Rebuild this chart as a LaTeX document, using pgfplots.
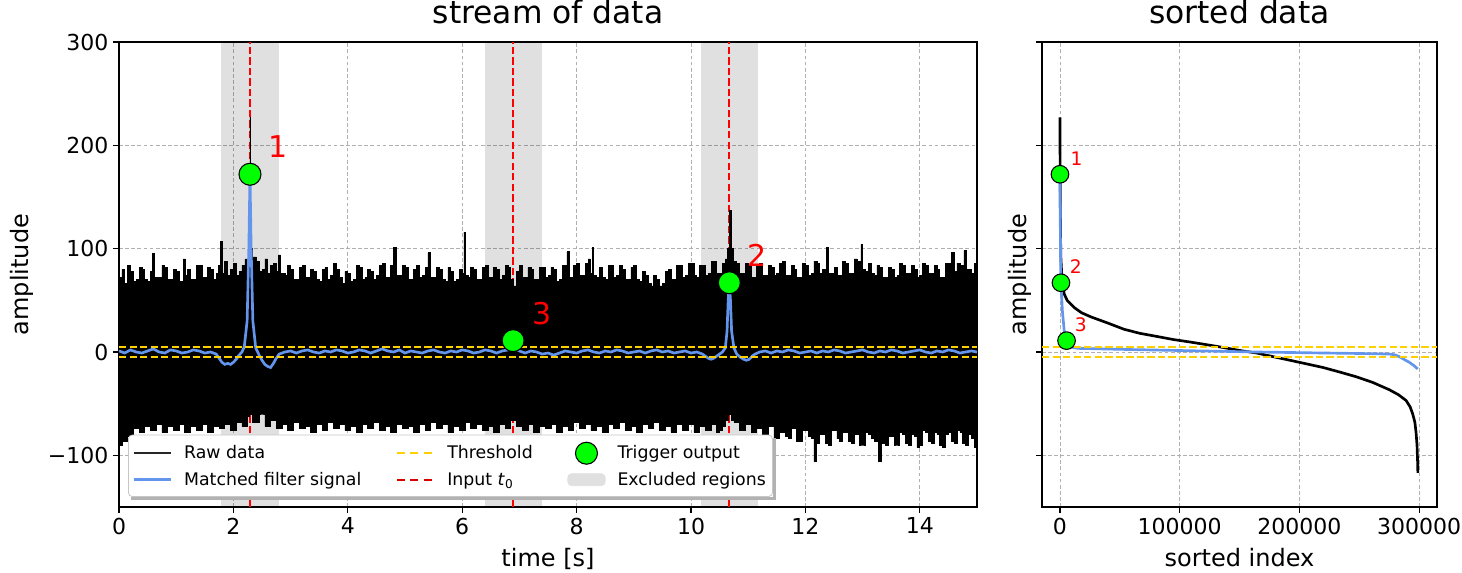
\documentclass[border=0pt]{standalone}
\usepackage{fontspec}
\setmainfont{DejaVu Sans}
\usepackage{pgfplots}
\pgfplotsset{compat=1.18}
\definecolor{mfblue}{HTML}{6495ED}
\definecolor{trig}{HTML}{00FF00}
\definecolor{thr}{HTML}{FFD000}
\definecolor{gridc}{HTML}{B0B0B0}

\pgfplotstableread{
x y
0.0 1
0.1 -1
0.2 2
0.3 0
0.4 -1
0.5 1
0.6 3
0.7 0
0.8 -1
0.9 2
1.0 1
1.1 -1
1.2 0
1.3 2
1.4 1
1.5 -1
1.6 0
1.7 -2
1.75 -6
1.8 -10
1.85 -12
1.9 -11
1.95 -12
2.0 -10
2.05 -7
2.1 -3
2.15 0
2.19 5
2.24 30
2.27 100
2.29 172
2.31 100
2.34 30
2.39 4
2.45 -3
2.5 -8
2.55 -12
2.6 -14
2.65 -15
2.7 -11
2.75 -6
2.8 -2
2.9 0
3.0 1
3.1 -1
3.2 1
3.3 2
3.4 0
3.5 -1
3.6 1
3.7 0
3.8 2
3.9 1
4.0 -1
4.1 0
4.2 2
4.3 1
4.4 -1
4.5 1
4.6 3
4.7 1
4.8 0
4.9 2
5.0 -1
5.1 1
5.2 0
5.3 -1
5.4 1
5.5 2
5.6 0
5.7 -1
5.8 1
5.9 0
6.0 2
6.1 1
6.2 -1
6.3 0
6.4 2
6.5 1
6.6 -1
6.7 1
6.8 2
6.89 4
7.0 1
7.1 -1
7.2 1
7.3 0
7.4 -2
7.5 -1
7.6 -3
7.7 -1
7.8 1
7.9 0
8.0 -1
8.1 1
8.2 2
8.3 0
8.4 -1
8.5 1
8.6 0
8.7 2
8.8 1
8.9 -1
9.0 0
9.1 1
9.2 -1
9.3 1
9.4 2
9.5 0
9.6 1
9.7 -1
9.8 0
9.9 1
10.0 -1
10.1 0
10.2 -2
10.25 -4
10.3 -6
10.35 -7
10.4 -6
10.45 -4
10.5 -2
10.55 0
10.6 4
10.63 20
10.65 50
10.67 67
10.69 50
10.71 20
10.75 4
10.8 -2
10.86 -5
10.92 -7
10.97 -8
11.02 -7
11.07 -4
11.12 -2
11.2 0
11.3 1
11.4 -1
11.5 1
11.6 0
11.7 2
11.8 1
11.9 -1
12.0 0
12.1 1
12.2 -1
12.3 1
12.4 0
12.5 2
12.6 1
12.7 -1
12.8 0
12.9 1
13.0 2
13.1 0
13.2 -1
13.3 1
13.4 0
13.5 2
13.6 1
13.7 -1
13.8 0
13.9 1
14.0 2
14.1 0
14.2 -1
14.3 1
14.4 0
14.5 2
14.6 1
14.7 -1
14.8 0
14.9 1
15.0 0
}\mftable

\pgfplotstableread{
x y
0.0 72
0.05 80
0.1 66
0.15 84
0.2 78
0.25 68
0.3 70
0.35 82
0.4 80
0.45 70
0.5 68
0.55 78
0.58 95
0.62 72
0.7 72
0.75 84
0.8 82
0.85 70
0.9 70
0.95 80
1.0 78
1.05 68
1.12 90
1.16 74
1.2 80
1.25 70
1.3 70
1.35 84
1.4 84
1.45 72
1.5 72
1.55 82
1.6 80
1.65 70
1.7 76
1.74 84
1.77 107
1.8 76
1.85 88
1.9 74
1.95 80
2.0 86
2.05 74
2.1 78
2.15 84
2.2 90
2.25 82
2.28 100
2.29 227
2.30 100
2.33 92
2.4 88
2.45 78
2.5 80
2.55 90
2.6 76
2.65 84
2.7 86
2.75 78
2.78 94
2.82 76
2.9 74
2.95 84
3.0 80
3.05 70
3.1 70
3.15 82
3.2 84
3.25 72
3.3 72
3.35 80
3.4 78
3.45 70
3.5 68
3.55 80
3.6 82
3.65 70
3.7 74
3.75 86
3.8 80
3.85 72
3.9 66
3.95 78
4.0 76
4.05 68
4.1 70
4.15 84
4.2 82
4.25 70
4.3 72
4.35 80
4.4 78
4.45 70
4.5 74
4.55 84
4.6 86
4.65 72
4.7 72
4.75 84
4.8 101
4.85 74
4.9 74
4.95 84
5.0 82
5.05 70
5.1 70
5.15 80
5.2 84
5.25 72
5.3 74
5.35 82
5.4 96
5.45 72
5.5 72
5.55 82
5.6 80
5.65 70
5.7 68
5.75 82
5.8 78
5.85 68
5.9 70
5.95 80
6.0 76
6.03 116
6.06 74
6.1 72
6.15 82
6.2 80
6.25 70
6.3 70
6.35 82
6.4 84
6.45 72
6.5 72
6.55 82
6.6 80
6.65 70
6.7 74
6.75 84
6.8 82
6.85 70
6.9 64
6.95 78
7.0 84
7.05 72
7.1 72
7.15 82
7.2 80
7.25 70
7.3 70
7.35 82
7.4 82
7.45 72
7.5 74
7.55 82
7.6 80
7.65 68
7.7 70
7.75 84
7.83 97
7.87 72
7.9 72
7.95 84
8.0 86
8.05 74
8.1 74
8.15 86
8.2 90
8.24 76
8.27 101
8.3 74
8.35 72
8.4 82
8.45 72
8.5 70
8.55 84
8.6 84
8.65 72
8.7 74
8.75 84
8.8 80
8.85 70
8.9 70
8.95 82
9.0 84
9.05 70
9.1 68
9.15 78
9.2 74
9.25 66
9.3 64
9.35 74
9.4 70
9.45 64
9.5 66
9.55 78
9.6 80
9.65 70
9.7 70
9.75 84
9.8 84
9.85 72
9.9 74
9.95 86
10.0 86
10.05 74
10.1 72
10.15 84
10.2 84
10.25 74
10.3 76
10.35 88
10.4 88
10.45 76
10.5 76
10.55 86
10.6 90
10.64 100
10.67 137
10.7 100
10.74 88
10.8 86
10.85 76
10.9 76
10.95 86
11.0 84
11.05 72
11.1 72
11.15 84
11.2 86
11.25 74
11.3 74
11.35 84
11.4 82
11.45 74
11.5 76
11.55 86
11.6 88
11.65 74
11.7 74
11.75 84
11.8 80
11.85 72
11.9 72
11.95 86
12.0 84
12.05 74
12.1 76
12.15 88
12.2 86
12.25 76
12.3 80
12.36 101
12.4 76
12.45 76
12.5 82
12.55 74
12.6 74
12.65 88
12.7 86
12.75 76
12.8 76
12.85 90
12.9 88
12.97 104
13.0 80
13.05 78
13.1 86
13.15 76
13.2 74
13.25 84
13.3 82
13.35 72
13.4 72
13.45 82
13.5 80
13.55 72
13.6 74
13.65 86
13.7 84
13.75 76
13.8 76
13.85 84
13.9 80
13.95 72
14.0 74
14.05 86
14.1 84
14.15 76
14.2 76
14.25 84
14.3 80
14.35 72
14.4 72
14.45 86
14.5 86
14.55 96
14.6 78
14.65 86
14.7 84
14.77 98
14.82 80
14.9 76
14.95 86
15.0 82
15.0 -92
14.95 -84
14.9 -80
14.85 -90
14.8 -88
14.75 -78
14.7 -76
14.65 -88
14.6 -86
14.55 -78
14.5 -80
14.45 -92
14.4 -90
14.35 -80
14.3 -78
14.25 -88
14.2 -86
14.15 -78
14.1 -76
14.05 -90
14.0 -92
13.95 -82
13.9 -80
13.85 -90
13.8 -88
13.75 -80
13.7 -78
13.65 -90
13.6 -90
13.55 -82
13.5 -82
13.45 -90
13.4 -88
13.33 -106
13.28 -86
13.2 -84
13.15 -80
13.1 -78
13.05 -90
13.0 -90
12.95 -80
12.9 -80
12.85 -88
12.8 -86
12.75 -78
12.7 -78
12.65 -86
12.6 -84
12.55 -76
12.5 -76
12.45 -90
12.4 -88
12.35 -80
12.3 -80
12.25 -88
12.19 -106
12.15 -84
12.1 -82
12.05 -76
12.0 -76
11.95 -86
11.9 -86
11.85 -74
11.8 -74
11.75 -84
11.7 -82
11.65 -78
11.6 -78
11.55 -84
11.5 -84
11.45 -72
11.4 -72
11.35 -80
11.3 -80
11.25 -74
11.2 -74
11.15 -78
11.1 -78
11.05 -70
11.0 -70
10.95 -76
10.9 -76
10.85 -68
10.8 -68
10.75 -66
10.7 -60
10.65 -66
10.6 -72
10.55 -76
10.5 -78
10.45 -70
10.4 -70
10.35 -76
10.3 -76
10.25 -72
10.2 -72
10.15 -78
10.1 -78
10.05 -70
10.0 -70
9.95 -76
9.9 -76
9.85 -70
9.8 -70
9.75 -78
9.7 -78
9.65 -72
9.6 -72
9.55 -76
9.5 -76
9.45 -68
9.4 -68
9.35 -74
9.3 -74
9.25 -70
9.2 -70
9.15 -78
9.1 -78
9.05 -72
9.0 -72
8.95 -76
8.9 -76
8.85 -68
8.8 -68
8.75 -74
8.7 -74
8.65 -70
8.6 -70
8.55 -78
8.5 -78
8.45 -72
8.4 -72
8.35 -76
8.3 -76
8.25 -70
8.2 -70
8.15 -74
8.1 -74
8.05 -68
8.0 -68
7.95 -76
7.9 -76
7.85 -72
7.8 -72
7.75 -78
7.7 -78
7.65 -70
7.6 -70
7.55 -74
7.5 -74
7.45 -72
7.4 -72
7.35 -78
7.3 -78
7.25 -70
7.2 -70
7.15 -76
7.1 -76
7.05 -72
7.0 -72
6.95 -66
6.9 -66
6.85 -74
6.8 -74
6.75 -70
6.7 -70
6.65 -78
6.6 -78
6.55 -72
6.5 -72
6.45 -76
6.4 -76
6.35 -70
6.3 -70
6.25 -74
6.2 -74
6.15 -68
6.1 -68
6.05 -76
6.0 -76
5.95 -72
5.9 -72
5.85 -78
5.8 -78
5.75 -70
5.7 -70
5.65 -74
5.6 -74
5.55 -68
5.5 -68
5.45 -76
5.4 -76
5.35 -70
5.3 -70
5.25 -78
5.2 -78
5.15 -72
5.1 -72
5.05 -74
5.0 -74
4.95 -70
4.9 -70
4.85 -78
4.8 -78
4.75 -72
4.7 -72
4.65 -76
4.6 -76
4.55 -68
4.5 -68
4.45 -74
4.4 -74
4.35 -70
4.3 -70
4.25 -78
4.2 -78
4.15 -72
4.1 -72
4.05 -76
4.0 -76
3.95 -70
3.9 -70
3.85 -74
3.8 -74
3.75 -68
3.7 -68
3.65 -76
3.6 -76
3.55 -70
3.5 -70
3.45 -78
3.4 -78
3.35 -72
3.3 -72
3.25 -74
3.2 -74
3.15 -68
3.1 -68
3.05 -76
3.0 -76
2.95 -70
2.9 -70
2.85 -74
2.8 -74
2.75 -66
2.7 -66
2.65 -72
2.6 -72
2.55 -60
2.5 -60
2.45 -68
2.4 -68
2.33 -60
2.3 -48
2.28 -62
2.25 -72
2.2 -72
2.15 -68
2.1 -68
2.05 -76
2.0 -76
1.95 -70
1.9 -70
1.85 -74
1.8 -74
1.75 -72
1.7 -72
1.65 -78
1.6 -78
1.55 -70
1.5 -70
1.45 -76
1.4 -76
1.35 -72
1.3 -72
1.25 -78
1.2 -78
1.15 -70
1.1 -70
1.05 -76
1.0 -76
0.95 -72
0.9 -72
0.85 -78
0.8 -78
0.75 -70
0.7 -70
0.65 -76
0.6 -76
0.55 -72
0.5 -72
0.45 -78
0.4 -78
0.35 -74
0.3 -74
0.25 -82
0.2 -82
0.15 -86
0.1 -86
0.05 -90
0.0 -90
}\rawtable

\pgfplotsset{
  commonstyle/.style={
    scale only axis,
    height=348.75pt,
    ymin=-150, ymax=300,
    ytick={-100,0,100,200,300},
    axis line style={black, line width=0.8pt},
    tick align=outside,
    tick pos=left,
    major tick length=4.5pt,
    tick style={black, line width=0.8pt},
    grid=major,
    grid style={gridc, line width=0.6pt, dash pattern=on 2.8pt off 1.8pt},
    tick label style={font=\fontsize{16.5}{19}\selectfont},
    /pgf/number format/assume math mode=true,
    /pgf/number format/1000 sep={},
    scaled x ticks=false,
    label style={font=\fontsize{18}{21}\selectfont},
    title style={font=\fontsize{23.5}{27}\selectfont},
    xlabel style={at={(axis description cs:0.5,-0.127)}, anchor=base},
  },
}

\begin{document}
\begin{tikzpicture}
\begin{axis}[commonstyle,
  name=left,
  at={(0pt,0pt)}, anchor=south west,
  width=643.5pt,
  xmin=0, xmax=15,
  xtick={0,2,4,6,8,10,12,14},
  yticklabels={−100,0,100,200,300},
  xlabel={time [s]},
  ylabel={amplitude},
  ylabel style={at={(axis description cs:-0.1049,0.5)}, anchor=base, rotate=0},
  title={stream of data},
  title style={at={(axis description cs:0.5,1.0215)}, anchor=base},
  legend columns=3,
  legend cell align=left,
  legend style={at={(axis description cs:0.0105,0.0215)}, anchor=south west,
    name=leg,
    draw=gray!45, fill=white, rounded corners=3pt, line width=0.6pt,
    font=\fontsize{13}{15.6}\selectfont,
    inner xsep=3pt, inner ysep=5pt, row sep=3.5pt,
    /tikz/every odd column/.append style={column sep=7pt},
    /tikz/every even column/.append style={column sep=24pt},
  },
]
% legend entries (row-wise order)
\addlegendimage{legend image code/.code={\draw[black!85, line width=1.6pt] (0pt,0pt) -- (28pt,0pt);}}
\addlegendentry{Raw data}
\addlegendimage{legend image code/.code={\draw[thr, line width=1.5pt, dash pattern=on 6pt off 4pt] (0pt,0pt) -- (28pt,0pt);}}
\addlegendentry{Threshold}
\addlegendimage{legend image code/.code={\draw[fill=trig, draw=black, line width=0.8pt] (14pt,0pt) circle (8.25pt);}}
\addlegendentry{Trigger output}
\addlegendimage{legend image code/.code={\draw[mfblue, line width=1.8pt] (0pt,0pt) -- (28pt,0pt);}}
\addlegendentry{Matched filter signal}
\addlegendimage{legend image code/.code={\draw[red!85!black, line width=1.5pt, dash pattern=on 6pt off 4pt] (0pt,0pt) -- (28pt,0pt);}}
\addlegendentry{Input \textit{t}\textsubscript{0}}
\addlegendimage{legend image code/.code={\fill[black!12] (0pt,-4.5pt) rectangle (28pt,4.5pt);}}
\addlegendentry{Excluded regions}

% excluded regions
\addplot[forget plot, fill=black, fill opacity=0.12, draw=none] coordinates {(1.79,-150) (2.79,-150) (2.79,300) (1.79,300)} -- cycle;
\addplot[forget plot, fill=black, fill opacity=0.12, draw=none] coordinates {(6.39,-150) (7.39,-150) (7.39,300) (6.39,300)} -- cycle;
\addplot[forget plot, fill=black, fill opacity=0.12, draw=none] coordinates {(10.17,-150) (11.17,-150) (11.17,300) (10.17,300)} -- cycle;
% input t0
\addplot[forget plot, red, line width=1.4pt, dash pattern=on 5.5pt off 2.4pt] coordinates {(2.29,-150) (2.29,300)};
\addplot[forget plot, red, line width=1.4pt, dash pattern=on 5.5pt off 2.4pt] coordinates {(6.89,-150) (6.89,300)};
\addplot[forget plot, red, line width=1.4pt, dash pattern=on 5.5pt off 2.4pt] coordinates {(10.67,-150) (10.67,300)};
% raw data band
\addplot[forget plot, const plot, fill=black, draw=black, line width=0.5pt] table[x=x, y=y] {\rawtable} -- cycle;
% matched filter
\addplot[forget plot, mfblue, line width=2pt] table[x=x, y=y] {\mftable};
% thresholds
\addplot[forget plot, thr, line width=1.4pt, dash pattern=on 5.5pt off 2.4pt] coordinates {(0,5) (15,5)};
\addplot[forget plot, thr, line width=1.4pt, dash pattern=on 5.5pt off 2.4pt] coordinates {(0,-5) (15,-5)};
% triggers
\addplot[forget plot, only marks, mark=*, mark size=8.25pt, mark options={fill=trig, draw=black, line width=0.8pt}] coordinates {(2.29,172) (10.67,67) (6.89,11)};
\node[red, font=\fontsize{22.5}{26}\selectfont] at (axis cs:2.78,198.6) {1};
\node[red, font=\fontsize{22.5}{26}\selectfont] at (axis cs:11.15,93.5) {2};
\node[red, font=\fontsize{22.5}{26}\selectfont] at (axis cs:7.40,37) {3};
\end{axis}
% legend shadow strips
\fill[black!30] ([xshift=2.5pt]leg.south west) ++(0pt,-2.5pt) rectangle ([xshift=2.5pt]leg.south east);
\fill[black!30] ([yshift=-2.5pt]leg.north east) ++(2.5pt,0pt) rectangle ([yshift=-2.5pt]leg.south east);

\begin{axis}[commonstyle,
  name=right,
  at={(692.25pt,0pt)}, anchor=south west,
  width=296.25pt,
  xmin=-15000, xmax=315000,
  xtick={0,100000,200000,300000},
  xticklabels={0,100000,200000,300000},
  yticklabels={},
  xlabel={sorted index},
  ylabel={amplitude},
  ylabel style={at={(axis description cs:-0.0405,0.5)}, anchor=base, rotate=0},
  title={sorted data},
  title style={at={(axis description cs:0.5,1.0215)}, anchor=base},
]
\addplot[black, line width=2pt] coordinates {
(0,227) (150,170) (300,140) (500,110) (800,90) (1500,75) (2500,64) (3600,56) (6000,50) (11900,43) (18000,38) (25800,34) (40000,28) (53500,22) (67000,18) (81200,15) (95000,12) (109000,9.6) (123000,7) (136700,4.3) (150000,1.5) (164400,-1) (178000,-4.5) (192100,-8) (206000,-11.5) (219800,-15) (234000,-19.5) (247600,-24) (261400,-29.5) (275300,-36.6) (283000,-41.5) (289200,-47) (292500,-53) (294700,-60) (296500,-68) (297500,-78) (298300,-90) (298900,-110) (299000,-117)};
\addplot[mfblue, line width=2pt] coordinates {
(0,172) (300,120) (600,80) (830,67) (2000,40) (3600,20) (5500,11) (8000,5) (15000,3.5) (53500,2.5) (110000,1.2) (164400,0) (210000,-0.8) (247600,-1.4) (275300,-2) (280000,-2.8) (283600,-4.6) (288000,-7.5) (291900,-10) (295500,-13) (298900,-16.4)};
\addplot[thr, line width=1.4pt, dash pattern=on 5.5pt off 2.4pt] coordinates {(-15000,5) (315000,5)};
\addplot[thr, line width=1.4pt, dash pattern=on 5.5pt off 2.4pt] coordinates {(-15000,-5) (315000,-5)};
\addplot[only marks, mark=*, mark size=6.6pt, mark options={fill=trig, draw=black, line width=0.8pt}] coordinates {(0,172) (830,67) (5500,11)};
\node[red, font=\fontsize{14}{17}\selectfont] at (axis cs:13900,187.5) {1};
\node[red, font=\fontsize{14}{17}\selectfont] at (axis cs:13300,83) {2};
\node[red, font=\fontsize{14}{17}\selectfont] at (axis cs:17500,26) {3};
\end{axis}
\pgfresetboundingbox
\path[use as bounding box] (-89.25pt,-49.5pt) rectangle (1007.25pt,380.25pt);
\end{tikzpicture}
\end{document}
